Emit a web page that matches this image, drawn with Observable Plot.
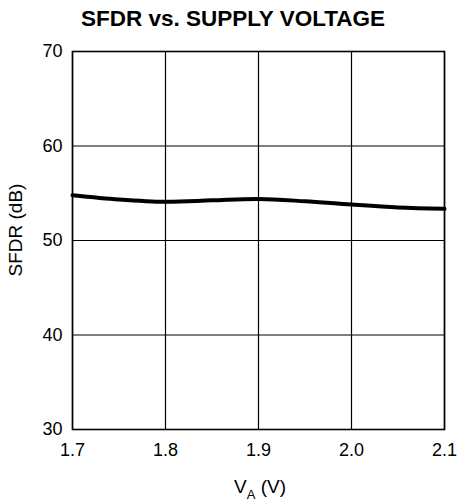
<!DOCTYPE html>
<html>
<head>
<meta charset="utf-8">
<script src="https://cdn.jsdelivr.net/npm/d3@7"></script>
<script src="https://cdn.jsdelivr.net/npm/@observablehq/plot@0.6"></script>
<style>
  body { margin: 0; background: #fff; font-family: "Liberation Sans", Arial, Helvetica, sans-serif; }
  #title { width: 460px; height: 40px; box-sizing: border-box; padding-top: 6px; padding-left: 6px; text-align: center; font-weight: bold; font-size: 22.5px; color: #000; line-height: 26px; }
</style>
</head>
<body>
<div id="title">SFDR vs. SUPPLY VOLTAGE</div>
<div id="chart"></div>
<script>
const voltage = [1.70, 1.75, 1.80, 1.85, 1.90, 1.95, 2.00, 2.05, 2.10];
const sfdr    = [54.8, 54.35, 54.1, 54.25, 54.4, 54.15, 53.8, 53.5, 53.35];
const xTicks = [1.7, 1.8, 1.9, 2.0, 2.1];
const yTicks = [30, 40, 50, 60, 70];

const data = voltage.map((v, i) => ({v, s: sfdr[i]}));

const chart = Plot.plot({
  width: 460,
  height: 461,
  marginTop: 11,
  marginBottom: 72,
  marginLeft: 72,
  marginRight: 16,
  style: { fontFamily: '"Liberation Sans", Arial, Helvetica, sans-serif', fontSize: "18px", color: "#000", background: "#fff" },
  x: { domain: [1.7, 2.1], ticks: xTicks, tickFormat: d => d.toFixed(1), tickSize: 0, tickPadding: 14, label: null },
  y: { domain: [30, 70], ticks: yTicks, tickSize: 0, tickPadding: 10, label: null },
  marks: [
    Plot.ruleX(xTicks, {stroke: "#000", strokeWidth: 1.2}),
    Plot.ruleY(yTicks, {stroke: "#000", strokeWidth: 1.2}),
    Plot.frame({stroke: "#000", strokeWidth: 1.6}),
    Plot.line(data, {x: "v", y: "s", stroke: "#000", strokeWidth: 4, curve: "catmull-rom"})
  ]
});
document.getElementById("chart").appendChild(chart);

const svg = d3.select(chart);
svg.append("text")
  .attr("transform", "translate(22,190) rotate(-90)")
  .attr("text-anchor", "middle")
  .attr("font-size", 19)
  .attr("fill", "#000")
  .text("SFDR (dB)");
const xl = svg.append("text")
  .attr("x", 260).attr("y", 453)
  .attr("text-anchor", "middle")
  .attr("font-size", 19)
  .attr("fill", "#000");
xl.append("tspan").text("V");
xl.append("tspan").attr("font-size", 13).attr("dy", 6).text("A");
xl.append("tspan").attr("dy", -6).text(" (V)");
</script>
</body>
</html>
